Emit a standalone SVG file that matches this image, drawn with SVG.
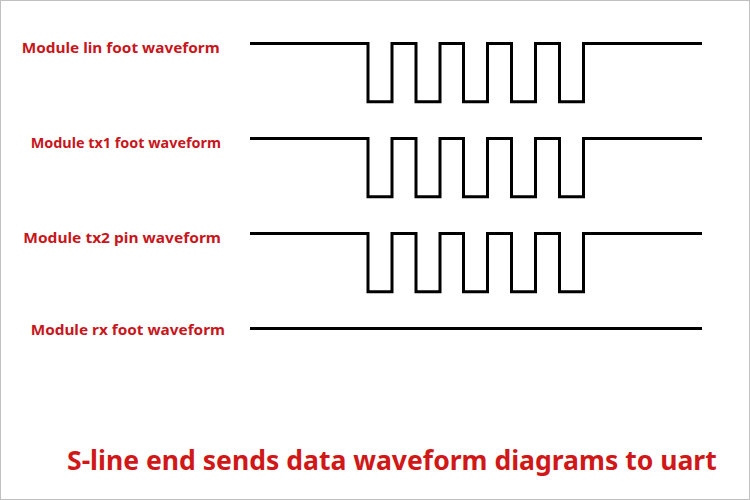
<svg xmlns="http://www.w3.org/2000/svg" width="750" height="500" viewBox="0 0 750 500">
<defs>
<style>
.lbl{font-family:"Noto Sans","Open Sans","Liberation Sans",sans-serif;font-weight:bold;font-size:14.5px;fill:#c8161d}
.ttl{font-family:"Noto Sans","Open Sans","Liberation Sans",sans-serif;font-weight:bold;font-size:26px;fill:#d01818}
.wave{fill:none;stroke:#000;stroke-width:3;stroke-linejoin:miter;stroke-linecap:butt}
</style>
<path id="pulse" d="M250,0 H368 V58.3 H392 V0 H416 V58.3 H440 V0 H463.5 V58.3 H487.5 V0 H511.5 V58.3 H535.5 V0 H559.5 V58.3 H583.5 V0 H702"/>
</defs>
<rect x="0" y="0" width="750" height="500" fill="#fff"/>
<rect x="0.5" y="0.5" width="749" height="499" fill="none" stroke="#c0c0c0" stroke-width="1"/>
<g id="labels">
<text id="lbl-lin" class="lbl" x="21.7" y="53.3" textLength="198" lengthAdjust="spacingAndGlyphs">Module lin foot waveform</text>
<text id="lbl-tx1" class="lbl" x="30.7" y="148.3" textLength="190.3" lengthAdjust="spacingAndGlyphs">Module tx1 foot waveform</text>
<text id="lbl-tx2" class="lbl" x="23.3" y="242.7" textLength="197.7" lengthAdjust="spacingAndGlyphs">Module tx2 pin waveform</text>
<text id="lbl-rx" class="lbl" x="30.7" y="335" textLength="194.3" lengthAdjust="spacingAndGlyphs">Module rx foot waveform</text>
</g>
<g id="waveforms">
<use id="wave-lin" href="#pulse" class="wave" transform="translate(0,43.4)"/>
<use id="wave-tx1" href="#pulse" class="wave" transform="translate(0,138.4)"/>
<use id="wave-tx2" href="#pulse" class="wave" transform="translate(0,233.4)"/>
<path id="wave-rx" class="wave" d="M250,328.4 H702"/>
</g>
<text id="title" class="ttl" x="67" y="470" textLength="649.7" lengthAdjust="spacingAndGlyphs">S-line end sends data waveform diagrams to uart</text>
</svg>
